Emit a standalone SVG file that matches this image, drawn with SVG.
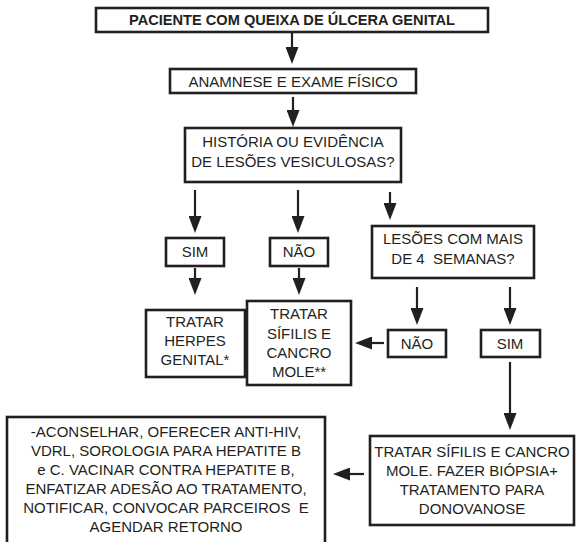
<svg xmlns="http://www.w3.org/2000/svg" width="576" height="542" viewBox="0 0 576 542">
<style>
.box{fill:#fff;stroke:#231f20;stroke-width:2.6}
.t{font-family:"Liberation Sans",Arial,sans-serif;font-size:15px;fill:#231f20;text-anchor:middle}
.b{font-weight:bold;font-size:14.6px}
.c{stroke:#231f20;stroke-width:2.2;fill:none;marker-end:url(#ah)}
</style>
<defs>
<marker id="ah" markerWidth="17" markerHeight="13" refX="7" refY="6.5" orient="auto" markerUnits="userSpaceOnUse">
<path d="M0,0 L17,6.5 L0,13 Z" fill="#231f20"/>
</marker>
</defs>
<rect width="576" height="542" fill="#fff"/>
<g id="connectors">
<line class="c" x1="292" y1="33" x2="292" y2="54"/>
<line class="c" x1="293" y1="97" x2="293" y2="117"/>
<line class="c" x1="195" y1="190" x2="195" y2="223"/>
<line class="c" x1="298" y1="190" x2="298" y2="223"/>
<line class="c" x1="390" y1="192" x2="390" y2="210"/>
<line class="c" x1="195" y1="268" x2="195" y2="285"/>
<line class="c" x1="299" y1="268" x2="299" y2="285"/>
<line class="c" x1="417" y1="287" x2="417" y2="315"/>
<line class="c" x1="510" y1="287" x2="510" y2="315"/>
<line class="c" x1="384" y1="343" x2="365" y2="343"/>
<line class="c" x1="510" y1="362" x2="510" y2="420"/>
<line class="c" x1="364" y1="474" x2="343" y2="474"/>
</g>
<g id="n1"><rect class="box" x="96" y="8" width="392" height="24"/><text class="t b" x="292" y="25">PACIENTE COM QUEIXA DE ÚLCERA GENITAL</text></g>
<g id="n2"><rect class="box" x="170" y="69" width="246" height="24"/><text class="t" x="293" y="87">ANAMNESE E EXAME FÍSICO</text></g>
<g id="n3"><rect class="box" x="185" y="128" width="216" height="54"/><text class="t" x="293" y="147">HISTÓRIA OU EVIDÊNCIA</text><text class="t" x="293" y="167">DE LESÕES VESICULOSAS?</text></g>
<g id="n4"><rect class="box" x="166" y="238" width="58" height="28"/><text class="t" x="195" y="257">SIM</text></g>
<g id="n5"><rect class="box" x="270" y="238" width="58" height="28"/><text class="t" x="299" y="257">NÃO</text></g>
<g id="n6"><rect class="box" x="372" y="226" width="162" height="52"/><text class="t" x="453" y="244">LESÕES COM MAIS</text><text class="t" x="453" y="264" xml:space="preserve">DE 4  SEMANAS?</text></g>
<g id="n7"><rect class="box" x="146" y="310" width="99" height="67"/><text class="t" x="195" y="327">TRATAR</text><text class="t" x="195" y="346">HERPES</text><text class="t" x="195" y="365">GENITAL*</text></g>
<g id="n8"><rect class="box" x="247" y="301" width="104" height="84"/><text class="t" x="299" y="319">TRATAR</text><text class="t" x="299" y="339">SÍFILIS E</text><text class="t" x="299" y="358">CANCRO</text><text class="t" x="299" y="377">MOLE**</text></g>
<g id="n9"><rect class="box" x="388" y="330" width="58" height="27"/><text class="t" x="417" y="349">NÃO</text></g>
<g id="n10"><rect class="box" x="481" y="330" width="59" height="27"/><text class="t" x="510" y="349">SIM</text></g>
<g id="n11"><rect class="box" x="370" y="436" width="204" height="89"/><text class="t" x="472" y="457">TRATAR SÍFILIS E CANCRO</text><text class="t" x="472" y="476">MOLE. FAZER BIÓPSIA+</text><text class="t" x="472" y="495">TRATAMENTO PARA</text><text class="t" x="472" y="514">DONOVANOSE</text></g>
<g id="n12"><rect class="box" x="7" y="417" width="318" height="140"/><text class="t" x="166" y="437">-ACONSELHAR, OFERECER ANTI-HIV,</text><text class="t" x="166" y="456">VDRL, SOROLOGIA PARA HEPATITE B</text><text class="t" x="166" y="475">e C. VACINAR CONTRA HEPATITE B,</text><text class="t" x="166" y="494">ENFATIZAR ADESÃO AO TRATAMENTO,</text><text class="t" x="166" y="513" xml:space="preserve">NOTIFICAR, CONVOCAR PARCEIROS  E</text><text class="t" x="166" y="532">AGENDAR RETORNO</text></g>
</svg>
